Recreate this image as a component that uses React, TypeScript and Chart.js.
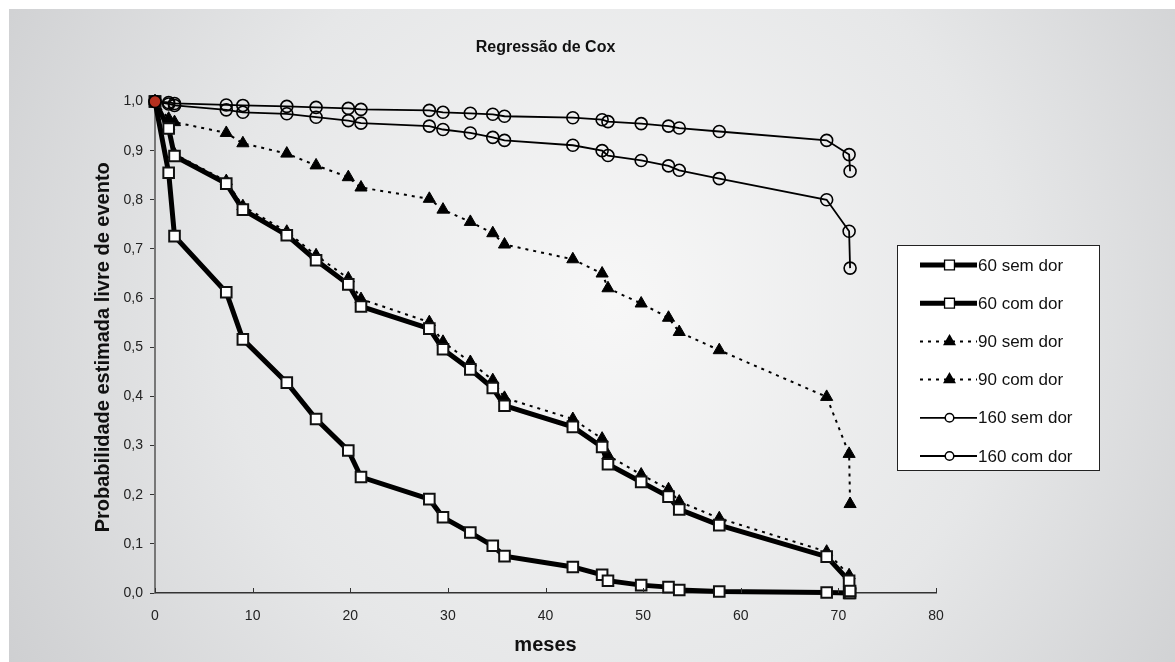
import React, { useEffect, useRef } from "react";
import { Chart, registerables } from "chart.js";

Chart.register(...registerables);

const FONT = '"Liberation Sans", Arial, Helvetica, sans-serif';

const chartTitle = "Regressão de Cox";
const xTitle = "meses";
const yTitle = "Probabilidade estimada livre de evento";

const months = [0, 1.4, 2.0, 7.3, 9.0, 13.5, 16.5, 19.8, 21.1, 28.1, 29.5, 32.3, 34.6, 35.8, 42.8, 45.8, 46.4, 49.8, 52.6, 53.7, 57.8, 68.8, 71.1, 71.2];

const s60SemDor = [1.0, 0.945, 0.889, 0.833, 0.78, 0.728, 0.677, 0.628, 0.583, 0.538, 0.496, 0.455, 0.417, 0.381, 0.338, 0.297, 0.262, 0.226, 0.196, 0.17, 0.138, 0.074, 0.025, 0.004];
const s60ComDor = [1.0, 0.855, 0.726, 0.612, 0.516, 0.428, 0.354, 0.29, 0.236, 0.191, 0.154, 0.123, 0.096, 0.075, 0.053, 0.037, 0.025, 0.016, 0.012, 0.006, 0.003, 0.001, 0.0, 0.0];
const s90SemDor = [1.0, 0.965, 0.958, 0.936, 0.915, 0.894, 0.87, 0.846, 0.825, 0.802, 0.78, 0.755, 0.732, 0.709, 0.679, 0.65, 0.62, 0.589, 0.56, 0.531, 0.494, 0.399, 0.283, 0.181];
const s90ComDor = [1.0, 0.95, 0.893, 0.838, 0.787, 0.735, 0.687, 0.64, 0.598, 0.551, 0.511, 0.47, 0.433, 0.397, 0.354, 0.314, 0.28, 0.241, 0.211, 0.186, 0.152, 0.084, 0.036, 0.015];
const s160SemDor = [1.0, 0.998, 0.996, 0.993, 0.992, 0.99, 0.988, 0.986, 0.984, 0.982, 0.978, 0.976, 0.974, 0.97, 0.967, 0.963, 0.959, 0.955, 0.95, 0.946, 0.939, 0.921, 0.892, 0.858];
const s160ComDor = [1.0, 0.995, 0.992, 0.983, 0.978, 0.975, 0.968, 0.961, 0.956, 0.95, 0.943, 0.936, 0.927, 0.921, 0.911, 0.9, 0.89, 0.88, 0.869, 0.86, 0.843, 0.8, 0.736, 0.661];

const seriesLabels = ["60 sem dor", "60 com dor", "90 sem dor", "90 com dor", "160 sem dor", "160 com dor"];

const xTickValues = [0, 10, 20, 30, 40, 50, 60, 70, 80];

function pts(ys: number[]) {
  return ys.map((y, i) => ({ x: months[i], y }));
}

function drawMarker(ctx: CanvasRenderingContext2D, style: string, x: number, y: number, r: number, fill: string, stroke: string, bw: number) {
  ctx.save();
  ctx.beginPath();
  if (style === "rect") {
    const s = Math.SQRT1_2 * r;
    ctx.rect(x - s, y - s, 2 * s, 2 * s);
  } else if (style === "triangle") {
    let rad = 0;
    ctx.moveTo(x + Math.sin(rad) * r, y - Math.cos(rad) * r);
    rad += (2 * Math.PI) / 3;
    ctx.lineTo(x + Math.sin(rad) * r, y - Math.cos(rad) * r);
    rad += (2 * Math.PI) / 3;
    ctx.lineTo(x + Math.sin(rad) * r, y - Math.cos(rad) * r);
    ctx.closePath();
  } else {
    ctx.arc(x, y, r, 0, Math.PI * 2);
  }
  ctx.fillStyle = fill;
  ctx.fill();
  ctx.lineWidth = bw;
  ctx.strokeStyle = stroke;
  ctx.stroke();
  ctx.restore();
}

const bgPlugin = {
  id: "bgGradient",
  beforeDraw(chart: any) {
    const { ctx, width, height } = chart;
    ctx.save();
    const g = ctx.createRadialGradient(width * 0.52, height * 0.45, 0, width * 0.52, height * 0.45, width * 0.62);
    g.addColorStop(0, "#f7f7f7");
    g.addColorStop(0.55, "#e6e7e8");
    g.addColorStop(1, "#cdced0");
    ctx.fillStyle = g;
    ctx.fillRect(0, 0, width, height);
    ctx.restore();
  },
};

const xTickPlugin = {
  id: "xInwardTicks",
  afterDraw(chart: any) {
    const { ctx } = chart;
    const xs = chart.scales.x;
    const bottom = chart.chartArea.bottom;
    ctx.save();
    ctx.strokeStyle = "#333";
    ctx.lineWidth = 1;
    xTickValues.forEach((v) => {
      const px = Math.round(xs.getPixelForValue(v)) + 0.5;
      ctx.beginPath();
      ctx.moveTo(px, bottom - 5);
      ctx.lineTo(px, bottom);
      ctx.stroke();
    });
    ctx.restore();
  },
};

const legendPlugin = {
  id: "boxLegend",
  afterDraw(chart: any) {
    const { ctx } = chart;
    const x0 = 888;
    const y0 = 236;
    const w = 202;
    const h = 225;
    ctx.save();
    ctx.fillStyle = "#ffffff";
    ctx.fillRect(x0, y0, w, h);
    ctx.strokeStyle = "#222";
    ctx.lineWidth = 1;
    ctx.strokeRect(x0 + 0.5, y0 + 0.5, w, h);
    chart.data.datasets.forEach((ds: any, i: number) => {
      const y = y0 + 20 + i * 38.2;
      const xa = x0 + 23;
      const xb = x0 + 80;
      const xm = (xa + xb) / 2 + 1;
      ctx.beginPath();
      ctx.setLineDash(ds.borderDash || []);
      ctx.lineWidth = ds.borderWidth;
      ctx.strokeStyle = ds.borderColor;
      ctx.moveTo(xa, y);
      ctx.lineTo(xb, y);
      ctx.stroke();
      ctx.setLineDash([]);
      const lr = ds.pointStyle === "rect" ? 7 : ds.pointStyle === "triangle" ? 6 : 4.3;
      const fill = ds.pointStyle === "triangle" ? "#000000" : "#ffffff";
      drawMarker(ctx, ds.pointStyle, xm, y, lr, fill, "#000", ds.pointStyle === "rect" ? 1.3 : 1.5);
      ctx.fillStyle = "#111";
      ctx.font = `17px ${FONT}`;
      ctx.textBaseline = "middle";
      ctx.textAlign = "left";
      ctx.fillText(ds.label, x0 + 81, y + 1);
    });
    ctx.restore();
  },
};

export default function App() {
  const ref = useRef<HTMLCanvasElement | null>(null);

  useEffect(() => {
    if (!ref.current) return;
    Chart.defaults.font.family = FONT;
    const squareSet = (label: string, ys: number[]) => ({
      label,
      data: pts(ys),
      borderColor: "#000",
      borderWidth: 5,
      pointStyle: "rect",
      pointRadius: 7.5,
      pointBorderWidth: 2,
      pointBorderColor: "#111",
      pointBackgroundColor: "#ffffff",
      tension: 0,
      clip: false,
      order: 1,
    });
    const triSet = (label: string, ys: number[]) => ({
      label,
      data: pts(ys),
      borderColor: "#000",
      borderWidth: 2,
      borderDash: [3, 5],
      pointStyle: "triangle",
      pointRadius: 7,
      pointBorderWidth: 1,
      pointBorderColor: "#000",
      pointBackgroundColor: "#000",
      tension: 0,
      clip: false,
      order: 2,
    });
    const circSet = (label: string, ys: number[], red: boolean) => ({
      label,
      data: pts(ys),
      borderColor: "#000",
      borderWidth: 1.8,
      pointStyle: "circle",
      pointRadius: 6,
      pointBorderWidth: 1.6,
      pointBorderColor: "#000",
      pointBackgroundColor: (c: any) => (red && c.dataIndex === 0 ? "#b5301f" : "rgba(0,0,0,0)"),
      tension: 0,
      clip: false,
      order: 0,
    });

    const chart = new Chart(ref.current, {
      type: "line",
      data: {
        datasets: [
          squareSet(seriesLabels[0], s60SemDor),
          squareSet(seriesLabels[1], s60ComDor),
          triSet(seriesLabels[2], s90SemDor),
          triSet(seriesLabels[3], s90ComDor),
          circSet(seriesLabels[4], s160SemDor, true),
          circSet(seriesLabels[5], s160ComDor, false),
        ] as any,
      },
      options: {
        responsive: false,
        animation: false,
        events: [],
        layout: { padding: { left: 0, right: 239, top: 0, bottom: 0 } },
        plugins: {
          legend: { display: false },
          tooltip: { enabled: false },
          title: {
            display: true,
            fullSize: false,
            text: chartTitle,
            color: "#111",
            font: { family: FONT, size: 16, weight: "bold" },
            padding: { top: 28.5, bottom: 44.8 },
          },
        },
        scales: {
          x: {
            type: "linear",
            min: 0,
            max: 80,
            afterFit: (s: any) => {
              s.height = 69;
            },
            ticks: {
              stepSize: 10,
              color: "#222",
              font: { family: FONT, size: 14 },
              padding: 15,
            },
            grid: { display: true, drawOnChartArea: false, drawTicks: false },
            border: { color: "#333", width: 1.5 },
            title: {
              display: true,
              text: xTitle,
              color: "#111",
              font: { family: FONT, size: 20, weight: "bold" },
              padding: { top: 0, bottom: 5 },
            },
          },
          y: {
            type: "linear",
            min: 0,
            max: 1,
            afterFit: (s: any) => {
              s.width = 146;
            },
            ticks: {
              stepSize: 0.1,
              color: "#222",
              font: { family: FONT, size: 14 },
              padding: 7,
              callback: (v: any) => Number(v).toFixed(1).replace(".", ","),
            },
            grid: { display: true, drawOnChartArea: false, drawTicks: true, tickLength: 5, color: "#333" },
            border: { color: "#777", width: 2 },
            title: {
              display: true,
              text: yTitle,
              color: "#111",
              font: { family: FONT, size: 20, weight: "bold" },
              padding: { top: 82, bottom: 0 },
            },
          },
        },
      } as any,
      plugins: [bgPlugin, xTickPlugin, legendPlugin] as any,
    });
    return () => chart.destroy();
  }, []);

  return (
    <div style={{ position: "fixed", left: 9, top: 9, width: 1166, height: 653 }}>
      <canvas ref={ref} width={1166} height={653} style={{ display: "block", width: 1166, height: 653 }} />
    </div>
  );
}
